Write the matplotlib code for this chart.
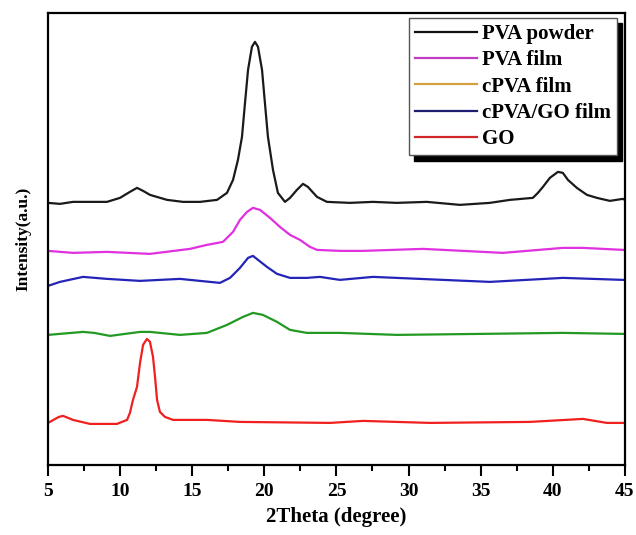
import matplotlib
matplotlib.use('Agg')
import matplotlib.pyplot as plt
from matplotlib.lines import Line2D

plt.rcParams['font.family'] = ['Liberation Serif', 'DejaVu Serif']
plt.rcParams['font.weight'] = 'bold'

# PVA powder
x_pow = [5, 5.83, 6.73, 9.09, 9.99, 10.68, 11.17, 11.59, 12.07, 13.25, 14.36, 15.54, 16.72, 17.41,
         17.83, 18.17, 18.45, 18.66, 18.87, 19.14, 19.35, 19.56, 19.84, 20.04, 20.25, 20.60, 20.94,
         21.43, 21.78, 22.26, 22.68, 23.02, 23.65, 24.34, 25.94, 27.53, 29.19, 31.27, 33.56, 35.64,
         37.03, 38.62, 38.97, 39.32, 39.80, 40.36, 40.70, 41.05, 41.67, 42.37, 43.06, 43.96, 44.86, 45]
y_pow = [262, 261, 263, 263, 267, 273, 277, 274, 270, 265, 263, 263, 265, 272,
         285, 305, 328, 362, 395, 418, 423, 418, 395, 362, 328, 295, 272,
         263, 267, 275, 281, 278, 268, 263, 262, 263, 262, 263, 260, 262,
         265, 267, 272, 278, 287, 293, 292, 285, 277, 270, 267, 264, 266, 265]

# PVA film
x_film = [5, 6.73, 9.09, 12.07, 14.84, 16.02, 17.13, 17.62, 17.83, 18.31, 18.80, 19.21, 19.70,
          20.39, 21.08, 21.78, 22.47, 23.16, 23.65, 25.24, 26.84, 31.0, 36.54, 40.7, 42.09, 44.86, 45]
y_film = [214, 212, 213, 211, 216, 220, 223, 230, 233, 245, 253, 257, 255,
          247, 238, 230, 225, 218, 215, 214, 214, 216, 212, 217, 217, 215, 215]

# cPVA/GO film
x_go_film = [5, 5.83, 7.43, 9.09, 11.38, 14.15, 16.92, 17.62, 17.83, 18.31, 18.87, 19.21, 19.56,
             20.18, 20.88, 21.78, 22.95, 23.86, 25.24, 27.53, 35.64, 40.70, 44.86, 45]
y_go_film = [179, 183, 188, 186, 184, 186, 182, 187, 190, 197, 207, 209, 205,
             198, 191, 187, 187, 188, 185, 188, 183, 187, 185, 185]

# cPVA film
x_cfilm = [5, 7.43, 8.2, 9.30, 11.38, 12.07, 14.15, 16.02, 17.41, 18.52, 19.21, 19.90, 20.88,
           21.78, 22.95, 25.24, 29.19, 35.0, 40.70, 44.86, 45]
y_cfilm = [130, 133, 132, 129, 133, 133, 130, 132, 140, 148, 152, 150, 143,
           135, 132, 132, 130, 131, 132, 131, 131]

# GO
x_go = [5, 5.75, 6.04, 6.4, 6.73, 7.91, 9.78, 10.48, 10.68, 10.89, 11.17, 11.38, 11.59, 11.86,
        12.07, 12.28, 12.42, 12.56, 12.76, 13.11, 13.67, 16.02, 18.31, 24.55, 26.84, 31.48,
        38.41, 42.09, 43.75, 44.86, 45]
y_go = [42, 48, 49, 47, 45, 41, 41, 45, 52, 65, 78, 102, 120, 126,
        123, 108, 88, 65, 53, 48, 45, 45, 43, 42, 44, 42, 43, 46, 42, 42, 42]

labels = ['PVA powder', 'PVA film', 'cPVA film', 'cPVA/GO film', 'GO']
legend_colors = ['#111111', '#c03cc0', '#d4a040', '#1c1c70', '#d02828']

fig = plt.figure(figsize=(6.36, 5.35), dpi=100)
ax = fig.add_axes([0.0755, 0.131, 0.907, 0.845])

ax.plot(x_pow, y_pow, color='#1a1a1a', lw=1.6)
ax.plot(x_film, y_film, color='#e030e0', lw=1.6)
ax.plot(x_go_film, y_go_film, color='#2424b8', lw=1.6)
ax.plot(x_cfilm, y_cfilm, color='#229922', lw=1.6)
ax.plot(x_go, y_go, color='#f02020', lw=1.6)

ax.set_xlim(5, 45)
ax.set_ylim(0, 452)
ax.set_xticks(range(5, 46, 5))
ax.set_xticks([7.5 + 5 * i for i in range(8)], minor=True)
ax.set_yticks([])
ax.tick_params(axis='x', which='major', direction='out', length=8, width=1.5, labelsize=14, pad=5)
ax.tick_params(axis='x', which='minor', direction='out', length=4, width=1.5)
for s in ax.spines.values():
    s.set_linewidth(1.6)

ax.set_xlabel('2Theta (degree)', fontsize=15, fontweight='bold', labelpad=5)
ax.set_ylabel('Intensity(a.u.)', fontsize=12.5, fontweight='bold', labelpad=12)

handles = [Line2D([], [], color=c, lw=1.6) for c in legend_colors]
leg = ax.legend(handles, labels, loc='upper right', bbox_to_anchor=(0.986, 0.989),
                fontsize=15, handlelength=3.0, labelspacing=0.3, borderpad=0.3,
                handletextpad=0.2, borderaxespad=0, fancybox=False, framealpha=1,
                shadow={'color': 'black', 'alpha': 1, 'ox': 4, 'oy': -4})
leg.get_frame().set_edgecolor('#555555')
leg.get_frame().set_linewidth(1.0)
for t in leg.get_texts():
    t.set_fontweight('bold')

fig.savefig('out.png', dpi=100)
